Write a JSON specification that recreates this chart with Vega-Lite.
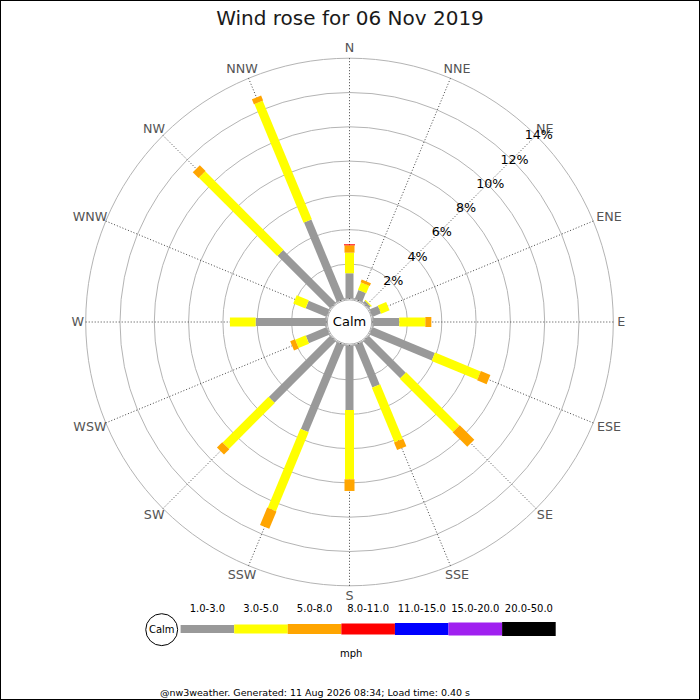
{
  "$schema": "https://vega.github.io/schema/vega-lite/v6.json",
  "width": 700,
  "height": 700,
  "autosize": {"type": "none"},
  "padding": 0,
  "background": "white",
  "config": {"font": "DejaVu Sans", "view": {"stroke": "black", "strokeWidth": 2}},
  "title": {"text": "Wind rose for 06 Nov 2019", "fontSize": 20, "fontWeight": "normal", "color": "#1a1a1a", "anchor": "middle", "baseline": "alphabetic", "offset": -45},
  "datasets": {
    "dirs": [
      {"dir": "N", "angle": 0}, {"dir": "NNE", "angle": 22.5}, {"dir": "NE", "angle": 45}, {"dir": "ENE", "angle": 67.5},
      {"dir": "E", "angle": 90}, {"dir": "ESE", "angle": 112.5}, {"dir": "SE", "angle": 135}, {"dir": "SSE", "angle": 157.5},
      {"dir": "S", "angle": 180}, {"dir": "SSW", "angle": 202.5}, {"dir": "SW", "angle": 225}, {"dir": "WSW", "angle": 247.5},
      {"dir": "W", "angle": 270}, {"dir": "WNW", "angle": 292.5}, {"dir": "NW", "angle": 315}, {"dir": "NNW", "angle": 337.5}
    ],
    "rings": [
      {"p": 2, "label": "2%"}, {"p": 4, "label": "4%"}, {"p": 6, "label": "6%"}, {"p": 8, "label": "8%"},
      {"p": 10, "label": "10%"}, {"p": 12, "label": "12%"}, {"p": 14, "label": "14%"}
    ],
    "classes": [
      {"cls": "1.0-3.0"}, {"cls": "3.0-5.0"}, {"cls": "5.0-8.0"}, {"cls": "8.0-11.0"},
      {"cls": "11.0-15.0"}, {"cls": "15.0-20.0"}, {"cls": "20.0-50.0"}
    ],
    "bars": [
      {"dir": "N", "cls": "1.0-3.0", "pct": 1.46}, {"dir": "N", "cls": "3.0-5.0", "pct": 1.20}, {"dir": "N", "cls": "5.0-8.0", "pct": 0.43}, {"dir": "N", "cls": "8.0-11.0", "pct": 0.06},
      {"dir": "NNE", "cls": "1.0-3.0", "pct": 0.54}, {"dir": "NNE", "cls": "3.0-5.0", "pct": 0.47}, {"dir": "NNE", "cls": "5.0-8.0", "pct": 0.17},
      {"dir": "NE", "cls": "1.0-3.0", "pct": 0.13}, {"dir": "NE", "cls": "3.0-5.0", "pct": 0.07},
      {"dir": "ENE", "cls": "1.0-3.0", "pct": 0.51}, {"dir": "ENE", "cls": "3.0-5.0", "pct": 0.53},
      {"dir": "E", "cls": "1.0-3.0", "pct": 1.52}, {"dir": "E", "cls": "3.0-5.0", "pct": 1.52}, {"dir": "E", "cls": "5.0-8.0", "pct": 0.35},
      {"dir": "ESE", "cls": "1.0-3.0", "pct": 3.91}, {"dir": "ESE", "cls": "3.0-5.0", "pct": 2.88}, {"dir": "ESE", "cls": "5.0-8.0", "pct": 0.60},
      {"dir": "SE", "cls": "1.0-3.0", "pct": 3.03}, {"dir": "SE", "cls": "3.0-5.0", "pct": 4.39}, {"dir": "SE", "cls": "5.0-8.0", "pct": 1.20},
      {"dir": "SSE", "cls": "1.0-3.0", "pct": 2.66}, {"dir": "SSE", "cls": "3.0-5.0", "pct": 3.44}, {"dir": "SSE", "cls": "5.0-8.0", "pct": 0.48},
      {"dir": "S", "cls": "1.0-3.0", "pct": 3.75}, {"dir": "S", "cls": "3.0-5.0", "pct": 4.04}, {"dir": "S", "cls": "5.0-8.0", "pct": 0.68},
      {"dir": "SSW", "cls": "1.0-3.0", "pct": 5.47}, {"dir": "SSW", "cls": "3.0-5.0", "pct": 4.98}, {"dir": "SSW", "cls": "5.0-8.0", "pct": 1.10},
      {"dir": "SW", "cls": "1.0-3.0", "pct": 5.04}, {"dir": "SW", "cls": "3.0-5.0", "pct": 3.78}, {"dir": "SW", "cls": "5.0-8.0", "pct": 0.44},
      {"dir": "WSW", "cls": "1.0-3.0", "pct": 1.28}, {"dir": "WSW", "cls": "3.0-5.0", "pct": 0.66}, {"dir": "WSW", "cls": "5.0-8.0", "pct": 0.30},
      {"dir": "W", "cls": "1.0-3.0", "pct": 4.09}, {"dir": "W", "cls": "3.0-5.0", "pct": 1.50},
      {"dir": "WNW", "cls": "1.0-3.0", "pct": 1.29}, {"dir": "WNW", "cls": "3.0-5.0", "pct": 0.77},
      {"dir": "NW", "cls": "1.0-3.0", "pct": 4.32}, {"dir": "NW", "cls": "3.0-5.0", "pct": 6.46}, {"dir": "NW", "cls": "5.0-8.0", "pct": 0.47},
      {"dir": "NNW", "cls": "1.0-3.0", "pct": 4.99}, {"dir": "NNW", "cls": "3.0-5.0", "pct": 7.49}, {"dir": "NNW", "cls": "5.0-8.0", "pct": 0.31}
    ]
  },
  "layer": [
    {
      "layer": [
        {
          "data": {"name": "rings"},
          "mark": {"type": "arc", "theta": 6.2832, "filled": false, "stroke": "#b4b4b4", "strokeWidth": 1},
          "encoding": {
            "x": {"datum": 0, "type": "quantitative", "scale": {"type": "linear", "domain": [-20.379, 20.4373], "range": [0, 700], "nice": false, "zero": false}, "axis": null},
            "y": {"datum": 0, "type": "quantitative", "scale": {"type": "linear", "domain": [-22.0408, 18.7755], "range": [700, 0], "nice": false, "zero": false}, "axis": null},
            "radius": {"field": "p", "type": "quantitative", "stack": null, "scale": {"type": "linear", "domain": [-1.382, 14], "range": [0, 263.8], "zero": false, "nice": false}}
          }
        },
        {
          "data": {"name": "dirs"},
          "transform": [
            {"calculate": "15.382*sin(datum.angle*PI/180)", "as": "sx"},
            {"calculate": "15.382*cos(datum.angle*PI/180)", "as": "sy"}
          ],
          "mark": {"type": "rule", "stroke": "#444", "strokeWidth": 1, "strokeDash": [1, 2]},
          "encoding": {
            "x": {"field": "sx", "type": "quantitative", "axis": null},
            "y": {"field": "sy", "type": "quantitative", "axis": null},
            "x2": {"datum": 0},
            "y2": {"datum": 0}
          }
        },
        {
          "data": {"name": "bars"},
          "transform": [
            {"lookup": "dir", "from": {"data": {"name": "dirs"}, "key": "dir", "fields": ["angle"]}},
            {"window": [{"op": "sum", "field": "pct", "as": "cum"}], "groupby": ["dir"], "sort": [{"field": "cls"}], "frame": [null, 0]},
            {"calculate": "datum.angle*PI/180", "as": "a"},
            {"calculate": "1.382+datum.cum-datum.pct", "as": "r0"},
            {"calculate": "1.382+datum.cum", "as": "r1"},
            {"calculate": "datum.r0*sin(datum.a)", "as": "bx0"},
            {"calculate": "datum.r0*cos(datum.a)", "as": "by0"},
            {"calculate": "datum.r1*sin(datum.a)", "as": "bx1"},
            {"calculate": "datum.r1*cos(datum.a)", "as": "by1"}
          ],
          "mark": {"type": "rule", "strokeCap": "butt"},
          "encoding": {
            "x": {"field": "bx0", "type": "quantitative", "axis": null},
            "y": {"field": "by0", "type": "quantitative", "axis": null},
            "x2": {"field": "bx1"},
            "y2": {"field": "by1"},
            "color": {"field": "cls", "type": "nominal", "legend": null,
                      "scale": {"domain": ["1.0-3.0", "3.0-5.0", "5.0-8.0", "8.0-11.0", "11.0-15.0", "15.0-20.0", "20.0-50.0"],
                                "range": ["#999999", "#ffff00", "#ffa500", "#ff0000", "#0000ff", "#a020f0", "#000000"]}},
            "strokeWidth": {"field": "cls", "type": "ordinal", "legend": null,
                            "scale": {"domain": ["1.0-3.0", "3.0-5.0", "5.0-8.0", "8.0-11.0", "11.0-15.0", "15.0-20.0", "20.0-50.0"],
                                      "range": [8, 14, 20, 22, 24, 26, 28]}}
          }
        },
        {
          "data": {"values": [{"item": "calm"}]},
          "mark": {"type": "point", "shape": "circle", "size": 1963, "filled": true, "fill": "white", "stroke": "#aaaaaa", "strokeWidth": 1, "opacity": 1},
          "encoding": {
            "x": {"datum": 0, "type": "quantitative", "axis": null},
            "y": {"datum": 0, "type": "quantitative", "axis": null}
          }
        },
        {
          "data": {"values": [{"item": "Calm"}]},
          "mark": {"type": "text", "fontSize": 13, "color": "black", "align": "center", "baseline": "middle"},
          "encoding": {
            "x": {"datum": 0, "type": "quantitative", "axis": null},
            "y": {"datum": 0, "type": "quantitative", "axis": null},
            "text": {"field": "item"}
          }
        },
        {
          "data": {"name": "dirs"},
          "transform": [
            {"calculate": "datum.angle*PI/180", "as": "a"},
            {"calculate": "(267 + length(datum.dir)*4.65)*sin(datum.a)/17.15", "as": "lx"},
            {"calculate": "(267 + 6.5)*cos(datum.a)/17.15", "as": "ly"}
          ],
          "mark": {"type": "text", "fontSize": 12.7, "color": "#555555", "align": "center", "baseline": "middle"},
          "encoding": {
            "x": {"field": "lx", "type": "quantitative", "axis": null},
            "y": {"field": "ly", "type": "quantitative", "axis": null},
            "text": {"field": "dir"}
          }
        },
        {
          "data": {"name": "rings"},
          "transform": [
            {"calculate": "(1.522+datum.p)*0.70711", "as": "px"}
          ],
          "mark": {"type": "text", "fontSize": 12.7, "color": "black", "align": "center", "baseline": "middle", "dx": 1, "dy": 1.5},
          "encoding": {
            "x": {"field": "px", "type": "quantitative", "axis": null},
            "y": {"field": "px", "type": "quantitative", "axis": null},
            "text": {"field": "label"}
          }
        },
        {
          "data": {"values": [{"item": "Calm"}]},
          "mark": {"type": "point", "shape": "circle", "size": 1018, "filled": true, "fill": "white", "stroke": "black", "strokeWidth": 1, "opacity": 1},
          "encoding": {
            "x": {"datum": -10.95, "type": "quantitative", "axis": null},
            "y": {"datum": -17.94, "type": "quantitative", "axis": null}
          }
        },
        {
          "data": {"values": [{"item": "Calm"}]},
          "mark": {"type": "text", "fontSize": 10, "color": "black", "align": "center", "baseline": "middle"},
          "encoding": {
            "x": {"datum": -10.95, "type": "quantitative", "axis": null},
            "y": {"datum": -17.94, "type": "quantitative", "axis": null},
            "text": {"field": "item"}
          }
        },
        {
          "data": {"values": [{"item": "mph"}]},
          "mark": {"type": "text", "fontSize": 10, "color": "black", "align": "center", "baseline": "alphabetic"},
          "encoding": {
            "x": {"datum": 0.1, "type": "quantitative", "axis": null},
            "y": {"datum": -19.53, "type": "quantitative", "axis": null},
            "text": {"field": "item"}
          }
        },
        {
          "data": {"values": [{"item": "@nw3weather. Generated: 11 Aug 2026 08:34; Load time: 0.40 s"}]},
          "mark": {"type": "text", "fontSize": 9.5, "color": "black", "align": "center", "baseline": "alphabetic"},
          "encoding": {
            "x": {"datum": -2.012, "type": "quantitative", "axis": null},
            "y": {"datum": -21.808, "type": "quantitative", "axis": null},
            "text": {"field": "item"}
          }
        }
      ]
    },
    {
      "layer": [
        {
          "data": {"name": "classes"},
          "mark": {"type": "rule", "strokeCap": "butt"},
          "encoding": {
            "x": {"field": "cls", "type": "ordinal", "bandPosition": 0, "axis": null,
                  "scale": {"type": "band", "domain": ["1.0-3.0", "3.0-5.0", "5.0-8.0", "8.0-11.0", "11.0-15.0", "15.0-20.0", "20.0-50.0"], "range": [180.6, 555.7], "paddingInner": 0, "paddingOuter": 0}},
            "x2": {"field": "cls", "bandPosition": 1},
            "y": {"datum": -17.9, "type": "quantitative", "axis": null},
            "color": {"field": "cls", "type": "nominal", "legend": null},
            "strokeWidth": {"field": "cls", "type": "ordinal", "legend": null}
          }
        },
        {
          "data": {"name": "classes"},
          "mark": {"type": "text", "fontSize": 10, "color": "black", "align": "center", "baseline": "alphabetic"},
          "encoding": {
            "x": {"field": "cls", "type": "ordinal", "axis": null},
            "y": {"datum": -16.89, "type": "quantitative", "axis": null},
            "text": {"field": "cls"}
          }
        }
      ]
    }
  ],
  "resolve": {"scale": {"x": "independent"}, "axis": {"x": "independent"}}
}
